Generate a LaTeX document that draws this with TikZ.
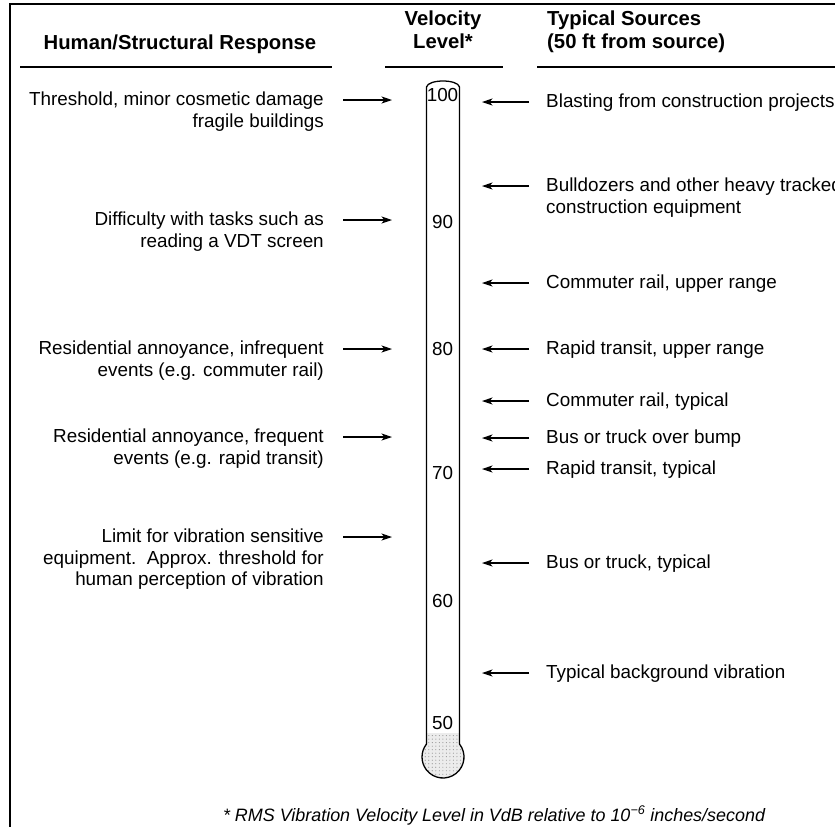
\documentclass[tikz,border=0pt]{standalone}
\usepackage{fontspec}
\setmainfont{Liberation Sans}
\usepackage{tikz}
\usetikzlibrary{calc, arrows.meta, patterns}
\newcommand{\bodyfont}{\fontsize{16.1}{18.3}\selectfont}
\newcommand{\headfont}{\fontsize{17.3}{19.6}\selectfont\bfseries}
\newcommand{\notefont}{\fontsize{15.3}{17}\selectfont\itshape}

\begin{document}
\begin{tikzpicture}[x=0.03cm, y=-0.03cm,
  resp/.style={font=\bodyfont, align=right, anchor=north east, inner sep=0pt},
  srce/.style={font=\bodyfont, align=left, anchor=north west, inner sep=0pt},
  head/.style={font=\headfont, anchor=base, inner sep=0pt},
  lvl/.style={font=\bodyfont, inner sep=0pt},
  arr/.style={-{Stealth[length=9pt, width=6pt, inset=2.5pt]}, line width=0.9pt}]
  \useasboundingbox (0,0) rectangle (835,827);

  % Frame and header rules
  \draw[line width=1.4pt] (835,4) -- (10,4) -- (10,827);
  \draw[line width=0.9pt] (20,67) -- (332,67);
  \draw[line width=0.9pt] (385,67) -- (503,67);
  \draw[line width=0.9pt] (537,67) -- (835,67);

  % Column headers
  \node[head] (hresp) at (180,49) {Human/Structural Response};
  \node[head] (hvel) at (443,25) {Velocity};
  \node[head] (hlev) at (443,48) {Level*};
  \node[head, anchor=base west] (hsrc) at (547,25) {Typical Sources};
  \node[head, anchor=base west] (hdist) at (547,48) {(50 ft from source)};

  % Thermometer: bulb, then tube outline
  \fill[gray!15] (426.5,733) -- (459.5,733) -- (459.5,744)
    arc[start angle=-38.2, end angle=218.2, radius=21] -- cycle;
  \fill[pattern=dots, pattern color=gray!80] (426.5,733) -- (459.5,733) -- (459.5,744)
    arc[start angle=-38.2, end angle=218.2, radius=21] -- cycle;
  \draw[line width=1.1pt] (426.5,744) -- (426.5,87)
    .. controls (428,79) and (458,79) .. (459.5,87) -- (459.5,744)
    arc[start angle=-38.2, end angle=218.2, radius=21];

  % Scale values
  \node[lvl] (v100) at (442.5,95) {100};
  \node[lvl] (v90) at (442.5,222) {90};
  \node[lvl] (v80) at (442.5,349) {80};
  \node[lvl] (v70) at (442.5,473) {70};
  \node[lvl] (v60) at (442.5,601) {60};
  \node[lvl] (v50) at (442.5,723) {50};

  % Human/structural response (left)
  \node[resp] (thr) at (324,92) {Threshold, minor cosmetic damage\\fragile buildings};
  \node[resp] (vdt) at (324,212) {Difficulty with tasks such as\\reading a VDT screen};
  \node[resp] (rinf) at (324,341) {Residential annoyance, infrequent\\events (e.g. commuter rail)};
  \node[resp] (rfrq) at (324,429) {Residential annoyance, frequent\\events (e.g. rapid transit)};
  \node[resp] (lim) at (324,529) {Limit for vibration sensitive\\equipment.\ \ Approx. threshold for\\human perception of vibration};

  \coordinate (athr) at (392,100);
  \coordinate (avdt) at (392,220);
  \coordinate (arinf) at (392,349);
  \coordinate (arfrq) at (392,437);
  \coordinate (alim) at (392,537);
  \draw[arr] ($(thr.north east)+(19,8)$) -- (athr);
  \draw[arr] ($(vdt.north east)+(19,8)$) -- (avdt);
  \draw[arr] ($(rinf.north east)+(19,8)$) -- (arinf);
  \draw[arr] ($(rfrq.north east)+(19,8)$) -- (arfrq);
  \draw[arr] ($(lim.north east)+(19,8)$) -- (alim);

  % Typical sources (right)
  \node[srce] (blast) at (546,94) {Blasting from construction projects};
  \node[srce] (dozer) at (546,178) {Bulldozers and other heavy tracked\\construction equipment};
  \node[srce] (crup) at (546,275) {Commuter rail, upper range};
  \node[srce] (rtup) at (546,341) {Rapid transit, upper range};
  \node[srce] (crty) at (546,393) {Commuter rail, typical};
  \node[srce] (bump) at (546,430) {Bus or truck over bump};
  \node[srce] (rtty) at (546,461) {Rapid transit, typical};
  \node[srce] (bus) at (546,555) {Bus or truck, typical};
  \node[srce] (bgnd) at (546,665) {Typical background vibration};

  \coordinate (sblast) at (482,102);
  \coordinate (sdozer) at (482,186);
  \coordinate (scrup) at (482,283);
  \coordinate (srtup) at (482,349);
  \coordinate (scrty) at (482,401);
  \coordinate (sbump) at (482,438);
  \coordinate (srtty) at (482,469);
  \coordinate (sbus) at (482,563);
  \coordinate (sbgnd) at (482,673);
  \draw[arr] ($(blast.north west)+(-17,8)$) -- (sblast);
  \draw[arr] ($(dozer.north west)+(-17,8)$) -- (sdozer);
  \draw[arr] ($(crup.north west)+(-17,8)$) -- (scrup);
  \draw[arr] ($(rtup.north west)+(-17,8)$) -- (srtup);
  \draw[arr] ($(crty.north west)+(-17,8)$) -- (scrty);
  \draw[arr] ($(bump.north west)+(-17,8)$) -- (sbump);
  \draw[arr] ($(rtty.north west)+(-17,8)$) -- (srtty);
  \draw[arr] ($(bus.north west)+(-17,8)$) -- (sbus);
  \draw[arr] ($(bgnd.north west)+(-17,8)$) -- (sbgnd);

  % Footnote
  \node[font=\notefont, anchor=base, inner sep=0pt] (note) at (494,821)
    {* RMS Vibration Velocity Level in VdB relative to 10\textsuperscript{−6} inches/second};
\end{tikzpicture}
\end{document}
